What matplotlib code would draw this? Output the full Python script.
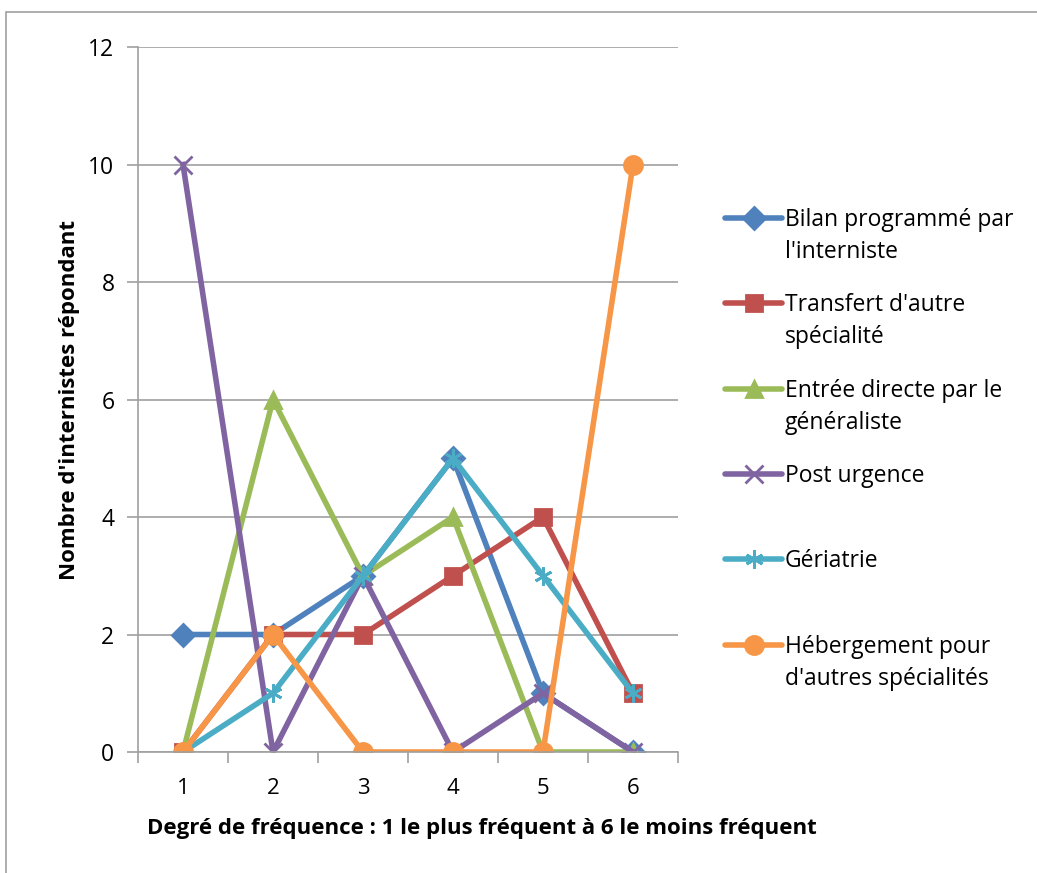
import matplotlib.pyplot as plt
from matplotlib.lines import Line2D
from matplotlib.patches import Rectangle

plt.rcParams['font.family'] = ['Open Sans', 'DejaVu Sans']

degres = [1, 2, 3, 4, 5, 6]
bilan = [2, 2, 3, 5, 1, 0]
transfert = [0, 2, 2, 3, 4, 1]
entree = [0, 6, 3, 4, 0, 0]
post_urgence = [10, 0, 3, 0, 1, 0]
geriatrie = [0, 1, 3, 5, 3, 1]
hebergement = [0, 2, 0, 0, 0, 10]

series = [
    ("Bilan programmé par\nl'interniste", bilan, '#4F81BD', 'D', 11),
    ("Transfert d'autre\nspécialité", transfert, '#C0504D', 's', 12),
    ("Entrée directe par le\ngénéraliste", entree, '#9BBB59', '^', 12),
    ("Post urgence", post_urgence, '#8064A2', 'x', 13),
    ("Gériatrie", geriatrie, '#4BACC6', (6, 2, 0), 13),
    ("Hébergement pour\nd'autres spécialités", hebergement, '#F79646', 'o', 13),
]

fig = plt.figure(figsize=(10.37, 8.73), dpi=100)
ax = fig.add_axes([138/1037, 1 - 752/873, 540/1037, 705/873])

grid_col = '#A0A0A0'
for label, vals, col, mk, ms in series:
    ax.plot(degres, vals, color=col, lw=4, marker=mk, markersize=ms,
            markeredgecolor=col, markeredgewidth=2, solid_joinstyle='round')

ax.set_xlim(0.5, 6.5)
ax.set_ylim(0, 12)
ax.set_yticks(range(0, 13, 2))
ax.set_xticks(degres)
ax.set_xticks([d - 0.5 for d in degres] + [6.5], minor=True)
ax.tick_params(axis='x', which='major', length=0, pad=19, labelsize=16)
ax.tick_params(axis='x', which='minor', length=8, width=1.2, color=grid_col, direction='out')
ax.tick_params(axis='y', length=8, width=1.2, color=grid_col, pad=9, labelsize=16.5)
ax.yaxis.grid(True, color=grid_col, lw=1.2)
ax.set_axisbelow(True)
for s in ['top', 'right']:
    ax.spines[s].set_visible(False)
for s in ['left', 'bottom']:
    ax.spines[s].set_color(grid_col)
    ax.spines[s].set_linewidth(1.2)

ax.set_ylabel("Nombre d'internistes répondant", fontsize=16, fontweight='bold', labelpad=6)
ax.set_xlabel("Degré de fréquence : 1 le plus fréquent à 6 le moins fréquent",
              fontsize=16, fontweight='bold')
ax.xaxis.set_label_coords((482 - 138) / 540, -0.108)
ax.xaxis.label.set_va('center')

# legend drawn by hand so the handle sits on the first text line
legend_y = [218, 303, 389, 474, 559, 645]
for (label, vals, col, mk, ms), yp in zip(series, legend_y):
    y = 1 - yp / 873
    fig.add_artist(Line2D([725/1037, 782/1037], [y, y], transform=fig.transFigure,
                          color=col, lw=4, solid_capstyle='round'))
    fig.add_artist(Line2D([754/1037], [y], transform=fig.transFigure, color=col,
                          marker=mk, markersize=ms, markeredgecolor=col, markeredgewidth=2))
    for k, line in enumerate(label.split('\n')):
        fig.text(785/1037, 1 - (yp + 8 + 32 * k) / 873, line, fontsize=16.5,
                 va='baseline', ha='left')

fig.add_artist(Rectangle((6/1037, -0.1), 1.2, 1.1 - 12/873,
                         transform=fig.transFigure, fill=False, edgecolor='#A0A0A0', lw=1.2))

fig.savefig('out.png', dpi=100)
